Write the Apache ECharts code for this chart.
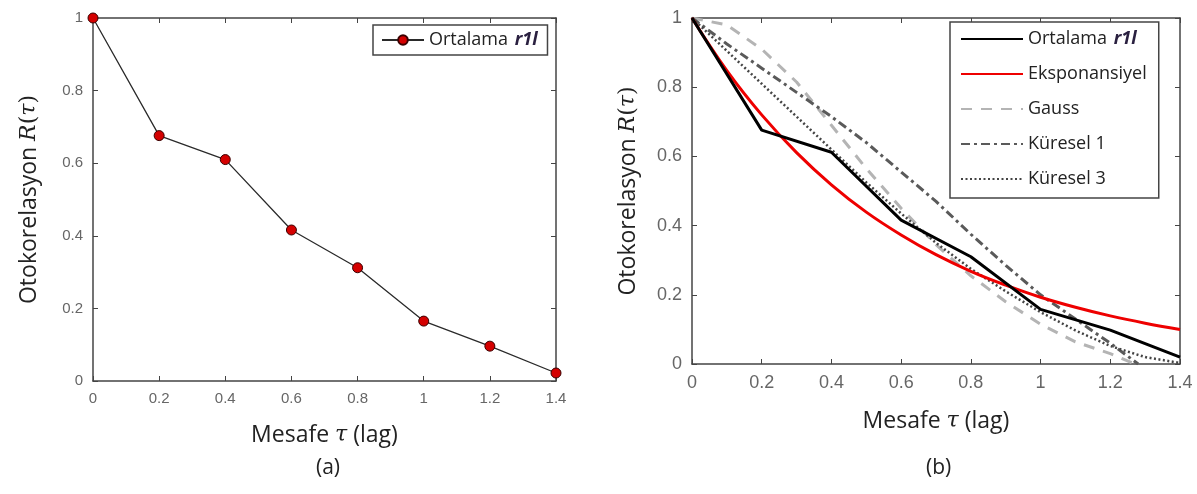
<!DOCTYPE html>
<html>
<head>
<meta charset="utf-8">
<script src="https://cdn.jsdelivr.net/npm/echarts@6/dist/echarts.min.js"></script>
<style>
  html, body { margin: 0; padding: 0; background: #fff; }
  #chart { width: 1197px; height: 494px; }
</style>
</head>
<body>
<div id="chart"></div>
<script>
// Lag distances and mean autocorrelation (panel a and black line of panel b)
const lags = [0, 0.2, 0.4, 0.6, 0.8, 1.0, 1.2, 1.4];
const meanR = [1, 0.676, 0.61, 0.416, 0.312, 0.165, 0.096, 0.022];
const meanRb = [1, 0.676, 0.612, 0.416, 0.31, 0.158, 0.098, 0.02];

// Fitted model curves (panel b)
const fineLags = [0, 0.1, 0.2, 0.3, 0.4, 0.5, 0.6, 0.7, 0.8, 0.9, 1.0, 1.1, 1.2, 1.3, 1.4];
const expR = [1, 0.848, 0.720, 0.611, 0.518, 0.439, 0.373, 0.316, 0.268, 0.228, 0.193, 0.164, 0.139, 0.118, 0.100];
const gaussLags = [0, 0.1, 0.2, 0.3, 0.4, 0.5, 0.6, 0.7, 0.8, 0.9, 1.0, 1.1, 1.2, 1.27];
const gaussR = [1, 0.98, 0.91, 0.815, 0.69, 0.565, 0.45, 0.345, 0.255, 0.18, 0.115, 0.064, 0.03, 0.0];
const sph1Lags = [0, 0.1, 0.2, 0.3, 0.4, 0.5, 0.6, 0.7, 0.8, 0.9, 1.0, 1.1, 1.2, 1.28];
const sph1R = [1, 0.925, 0.855, 0.785, 0.715, 0.64, 0.555, 0.47, 0.375, 0.285, 0.2, 0.13, 0.06, 0.0];
const sph3R = [1, 0.905, 0.81, 0.715, 0.62, 0.525, 0.435, 0.35, 0.275, 0.21, 0.15, 0.097, 0.052, 0.02, 0.003];

const pairs = (xs, ys) => xs.map((x, i) => [x, ys[i]]);

const sans = '"Open Sans", "Noto Sans", sans-serif';
const tickFont = 'Liberation Sans, Arial, sans-serif';

const yTitleRich = {
  t: { fontFamily: sans, fontSize: 23, color: '#222' },
  m: { fontFamily: 'DejaVu Serif, serif', fontStyle: 'italic', fontSize: 22, color: '#222' },
  p: { fontFamily: 'DejaVu Serif, serif', fontSize: 22, color: '#222' }
};
const yTitle = '{t|Otokorelasyon }{m|R}{p|(}{m|τ}{p|)}';
const xTitleRich = {
  t: { fontFamily: sans, fontSize: 23, color: '#222' },
  m: { fontFamily: 'DejaVu Serif, serif', fontStyle: 'italic', fontSize: 22, color: '#222' }
};
const xTitle = '{t|Mesafe }{m|τ}{t| (lag)}';

function xAxes(gridIndex, fs, gap) {
  const base = {
    type: 'value', gridIndex, min: 0, max: 1.4, interval: 0.2,
    splitLine: { show: false },
    axisLine: { show: true, onZero: false, lineStyle: { color: '#444', width: 1.5 } },
    axisTick: { show: true, inside: true, length: 5, lineStyle: { color: '#444' } }
  };
  return [
    Object.assign({}, base, {
      position: 'bottom',
      axisLabel: { color: '#666', fontSize: fs, fontFamily: tickFont, margin: 10,
        formatter: v => String(+v.toFixed(1)) },
      name: xTitle, nameLocation: 'middle', nameGap: gap,
      nameTextStyle: { rich: xTitleRich }
    }),
    Object.assign({}, base, { position: 'top', axisLabel: { show: false } })
  ];
}
function yAxes(gridIndex, fs, gap) {
  const base = {
    type: 'value', gridIndex, min: 0, max: 1, interval: 0.2,
    splitLine: { show: false },
    axisLine: { show: true, onZero: false, lineStyle: { color: '#444', width: 1.5 } },
    axisTick: { show: true, inside: true, length: 5, lineStyle: { color: '#444' } }
  };
  return [
    Object.assign({}, base, {
      position: 'left',
      axisLabel: { color: '#666', fontSize: fs, fontFamily: tickFont, margin: 10,
        formatter: v => String(+v.toFixed(1)) },
      name: yTitle, nameLocation: 'middle', nameGap: gap, nameRotate: 90,
      nameTextStyle: { rich: yTitleRich }
    }),
    Object.assign({}, base, { position: 'right', axisLabel: { show: false } })
  ];
}

const legendRich = {
  n: { fontFamily: sans, fontSize: 18, color: '#222' },
  i: { fontFamily: sans, fontSize: 18, color: '#2a2040', fontStyle: 'italic', fontWeight: 'bold' }
};
const legendFmt = name => {
  const s = name.trim();
  if (s === 'Ortalama r1l') return '{n|Ortalama}  {i|r1l}';
  return '{n|' + s + '}';
};

const chart = echarts.init(document.getElementById('chart'), null, { renderer: 'canvas' });
chart.setOption({
  animation: false,
  backgroundColor: '#fff',
  title: [
    { text: '(a)', left: 311, top: 453, textStyle: { fontFamily: sans, fontSize: 21, fontWeight: 'normal', color: '#222' } },
    { text: '(b)', left: 921, top: 453, textStyle: { fontFamily: sans, fontSize: 21, fontWeight: 'normal', color: '#222' } }
  ],
  grid: [
    { left: 93, right: 641, top: 18, bottom: 113, show: false },
    { left: 692, right: 17, top: 18, bottom: 130, show: false }
  ],
  xAxis: [...xAxes(0, 15, 43), ...xAxes(1, 18, 46)],
  yAxis: [...yAxes(0, 15, 52), ...yAxes(1, 18, 52)],
  legend: [
    {
      data: ['Ortalama r1l'],
      left: 373, top: 25,
      itemWidth: 42, itemHeight: 12,
      padding: [6, 10, 6, 8],
      borderColor: '#444', borderWidth: 1.5,
      backgroundColor: '#fff',
      formatter: legendFmt, textStyle: { rich: legendRich }
    },
    {
      data: ['Ortalama r1l ', 'Eksponansiyel', 'Gauss', 'Küresel 1', 'Küresel 3'],
      orient: 'vertical',
      left: 950, top: 22,
      itemWidth: 62, itemHeight: 12, itemGap: 17,
      padding: [8, 12, 10, 10],
      borderColor: '#444', borderWidth: 1.5,
      backgroundColor: '#fff',
      itemStyle: { opacity: 0 },
      formatter: legendFmt, textStyle: { rich: legendRich }
    }
  ],
  series: [
    {
      name: 'Ortalama r1l', type: 'line', xAxisIndex: 0, yAxisIndex: 0,
      data: pairs(lags, meanR),
      lineStyle: { color: '#2a2a2a', width: 1.3 },
      symbol: 'circle', symbolSize: 10,
      itemStyle: { color: '#d40000', borderColor: '#3a0000', borderWidth: 1 },
      z: 3
    },
    {
      name: 'Gauss', type: 'line', xAxisIndex: 2, yAxisIndex: 2,
      data: pairs(gaussLags, gaussR), symbol: 'none',
      lineStyle: { color: '#b4b4b4', width: 3, type: [11, 9] },
      itemStyle: { color: '#b4b4b4' }
    },
    {
      name: 'Küresel 1', type: 'line', xAxisIndex: 2, yAxisIndex: 2,
      data: pairs(sph1Lags, sph1R), symbol: 'none',
      lineStyle: { color: '#5a5a5a', width: 3, type: [9, 4, 3, 4] },
      itemStyle: { color: '#5a5a5a' }
    },
    {
      name: 'Küresel 3', type: 'line', xAxisIndex: 2, yAxisIndex: 2,
      data: pairs(fineLags, sph3R), symbol: 'none',
      lineStyle: { color: '#444', width: 2.5, type: [2, 2.5] },
      itemStyle: { color: '#444' }
    },
    {
      name: 'Eksponansiyel', type: 'line', xAxisIndex: 2, yAxisIndex: 2,
      data: pairs(fineLags, expR), smooth: 0.4, symbol: 'none',
      lineStyle: { color: '#ee0000', width: 3 },
      itemStyle: { color: '#ee0000' }
    },
    {
      name: 'Ortalama r1l ', type: 'line', xAxisIndex: 2, yAxisIndex: 2,
      data: pairs(lags, meanRb), symbol: 'none',
      lineStyle: { color: '#000', width: 3 },
      itemStyle: { color: '#000' }, z: 4
    }
  ]
});
</script>
</body>
</html>
